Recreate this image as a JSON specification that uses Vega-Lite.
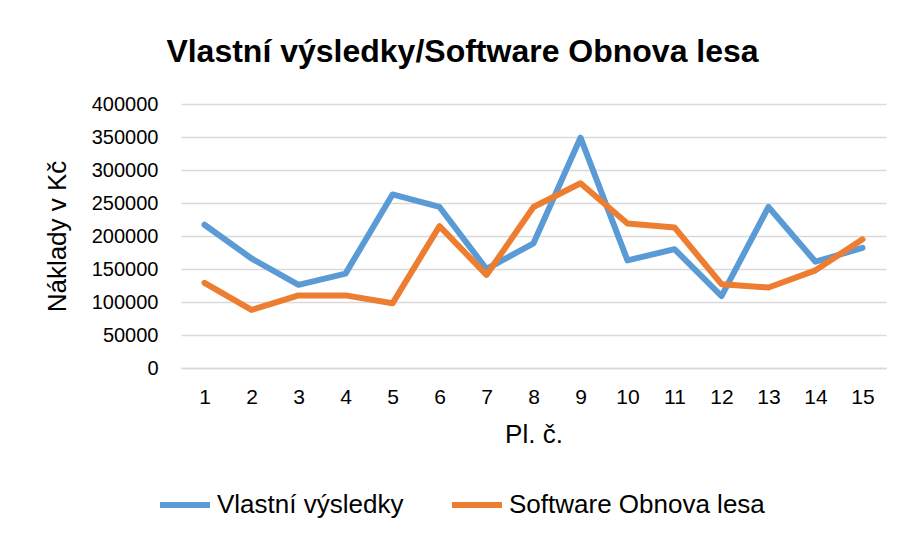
{
  "$schema": "https://vega.github.io/schema/vega-lite/v6.json",
  "width": 705,
  "height": 264,
  "autosize": {"type": "none"},
  "padding": {"left": 181, "top": 104, "right": 20, "bottom": 168},
  "background": "white",
  "title": {
    "text": "Vlastní výsledky/Software Obnova lesa",
    "anchor": "middle",
    "frame": "group",
    "dx": -71,
    "offset": 25,
    "font": "Liberation Sans",
    "fontSize": 32,
    "fontWeight": "bold",
    "color": "#000000"
  },
  "data": {
    "values": [
      {"pl": 1, "series": "Vlastní výsledky", "value": 217000},
      {"pl": 2, "series": "Vlastní výsledky", "value": 166000},
      {"pl": 3, "series": "Vlastní výsledky", "value": 126000},
      {"pl": 4, "series": "Vlastní výsledky", "value": 143000},
      {"pl": 5, "series": "Vlastní výsledky", "value": 263000},
      {"pl": 6, "series": "Vlastní výsledky", "value": 244000},
      {"pl": 7, "series": "Vlastní výsledky", "value": 150000},
      {"pl": 8, "series": "Vlastní výsledky", "value": 189000},
      {"pl": 9, "series": "Vlastní výsledky", "value": 349000},
      {"pl": 10, "series": "Vlastní výsledky", "value": 163000},
      {"pl": 11, "series": "Vlastní výsledky", "value": 180000},
      {"pl": 12, "series": "Vlastní výsledky", "value": 109000},
      {"pl": 13, "series": "Vlastní výsledky", "value": 244000},
      {"pl": 14, "series": "Vlastní výsledky", "value": 161000},
      {"pl": 15, "series": "Vlastní výsledky", "value": 182000},
      {"pl": 1, "series": "Software Obnova lesa", "value": 129000},
      {"pl": 2, "series": "Software Obnova lesa", "value": 88000},
      {"pl": 3, "series": "Software Obnova lesa", "value": 110000},
      {"pl": 4, "series": "Software Obnova lesa", "value": 110000},
      {"pl": 5, "series": "Software Obnova lesa", "value": 98000},
      {"pl": 6, "series": "Software Obnova lesa", "value": 215000},
      {"pl": 7, "series": "Software Obnova lesa", "value": 141000},
      {"pl": 8, "series": "Software Obnova lesa", "value": 244000},
      {"pl": 9, "series": "Software Obnova lesa", "value": 280000},
      {"pl": 10, "series": "Software Obnova lesa", "value": 219000},
      {"pl": 11, "series": "Software Obnova lesa", "value": 213000},
      {"pl": 12, "series": "Software Obnova lesa", "value": 127000},
      {"pl": 13, "series": "Software Obnova lesa", "value": 122000},
      {"pl": 14, "series": "Software Obnova lesa", "value": 148000},
      {"pl": 15, "series": "Software Obnova lesa", "value": 195000}
    ]
  },
  "mark": {"type": "line", "strokeWidth": 6, "strokeCap": "round", "strokeJoin": "round"},
  "encoding": {
    "x": {
      "field": "pl",
      "type": "ordinal",
      "sort": "ascending",
      "scale": {"padding": 0.5},
      "axis": {
        "title": "Pl. č.",
        "labelAngle": 0,
        "labelFontSize": 21,
        "labelPadding": 18,
        "titleFontSize": 26,
        "titleFontWeight": "normal",
        "titlePadding": 14,
        "ticks": false,
        "domain": true,
        "domainColor": "#D9D9D9",
        "domainWidth": 1.5,
        "grid": false
      }
    },
    "y": {
      "field": "value",
      "type": "quantitative",
      "scale": {"domain": [0, 400000], "nice": false},
      "axis": {
        "title": "Náklady v Kč",
        "values": [0, 50000, 100000, 150000, 200000, 250000, 300000, 350000, 400000],
        "format": "d",
        "labelFontSize": 20,
        "labelPadding": 23,
        "titleFontSize": 26,
        "titleFontWeight": "normal",
        "titlePadding": 21,
        "ticks": false,
        "domain": false,
        "grid": true,
        "gridColor": "#D9D9D9",
        "gridWidth": 1.5
      }
    },
    "color": {
      "field": "series",
      "type": "nominal",
      "sort": ["Vlastní výsledky", "Software Obnova lesa"],
      "scale": {"domain": ["Vlastní výsledky", "Software Obnova lesa"], "range": ["#5B9BD5", "#ED7D31"]},
      "legend": {
        "title": null,
        "orient": "none",
        "direction": "horizontal",
        "legendX": -24,
        "legendY": 373,
        "symbolType": "stroke",
        "symbolSize": 2500,
        "symbolStrokeWidth": 6,
        "labelFontSize": 26,
        "labelOffset": 4,
        "columnPadding": 36,
        "labelLimit": 400
      }
    }
  },
  "config": {
    "font": "Liberation Sans",
    "view": {"stroke": null},
    "axis": {"labelColor": "#000000", "titleColor": "#000000", "labelFont": "Liberation Sans", "titleFont": "Liberation Sans"},
    "legend": {"labelColor": "#000000", "labelFont": "Liberation Sans"}
  }
}
